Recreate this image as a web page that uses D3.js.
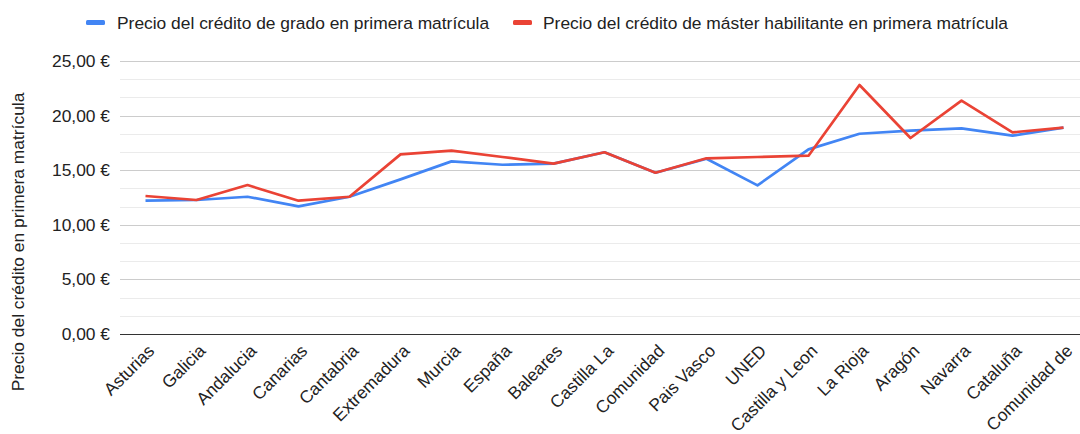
<!DOCTYPE html>
<html>
<head>
<meta charset="utf-8">
<script src="https://cdn.jsdelivr.net/npm/d3@7"></script>
<style>
  body { margin: 0; background: #fff; }
  svg { font-family: "Liberation Sans", Arial, sans-serif; }
</style>
</head>
<body>
<div id="chart"></div>
<script>
const regions = ["Asturias", "Galicia", "Andalucia", "Canarias", "Cantabria", "Extremadura", "Murcia",
  "España", "Baleares", "Castilla La", "Comunidad", "Pais Vasco", "UNED", "Castilla y Leon",
  "La Rioja", "Aragón", "Navarra", "Cataluña", "Comunidad de"];
const grado = [12.21, 12.27, 12.57, 11.69, 12.57, 14.16, 15.81, 15.5, 15.6, 16.64, 14.77, 16.05,
  13.61, 16.91, 18.34, 18.62, 18.83, 18.16, 18.9];
const master = [12.64, 12.27, 13.64, 12.21, 12.57, 16.45, 16.79, 16.21, 15.6, 16.64, 14.77, 16.09,
  16.21, 16.33, 22.8, 17.95, 21.37, 18.47, 18.9];
const yTicks = [0, 5, 10, 15, 20, 25];
const seriesNames = ["Precio del crédito de grado en primera matrícula",
  "Precio del crédito de máster habilitante en primera matrícula"];
const colors = ["#4285f4", "#ea4335"];

const width = 1080, height = 434;
const margin = { left: 120, right: 0, top: 61, bottom: 100 };
const fontSize = "17.4px";

const svg = d3.select("#chart").append("svg")
  .attr("width", width)
  .attr("height", height);

const x = d3.scaleBand()
  .domain(regions)
  .range([margin.left, margin.left + 51 * regions.length]);

const y = d3.scaleLinear()
  .domain([0, 25])
  .range([height - margin.bottom, margin.top]);

// minor gridlines
const minor = d3.range(0, 25, 5 / 3).filter((d, i) => i % 3 !== 0);
svg.append("g").selectAll("line")
  .data(minor)
  .enter().append("line")
  .attr("x1", margin.left).attr("x2", width)
  .attr("y1", d => Math.round(y(d)) + 0.5).attr("y2", d => Math.round(y(d)) + 0.5)
  .attr("stroke", "#ebebeb");

// major gridlines
svg.append("g").selectAll("line")
  .data(yTicks.slice(1))
  .enter().append("line")
  .attr("x1", margin.left).attr("x2", width)
  .attr("y1", d => Math.round(y(d)) + 0.5).attr("y2", d => Math.round(y(d)) + 0.5)
  .attr("stroke", "#cccccc");

// y labels
const fmt = d => d3.format(".2f")(d).replace(".", ",") + " €";
svg.append("g").selectAll("text")
  .data(yTicks)
  .enter().append("text")
  .attr("x", 110)
  .attr("y", d => y(d) + 6)
  .attr("text-anchor", "end")
  .attr("font-size", fontSize)
  .attr("fill", "#222")
  .text(fmt);

// y title
svg.append("text")
  .attr("transform", "translate(24,242) rotate(-90)")
  .attr("text-anchor", "middle")
  .attr("font-size", fontSize)
  .attr("fill", "#222")
  .text("Precio del crédito en primera matrícula");

// lines
const line = d3.line()
  .x((d, i) => x(regions[i]) + x.bandwidth() / 2)
  .y(d => y(d));

[grado, master].forEach((vals, k) => {
  svg.append("path")
    .datum(vals)
    .attr("fill", "none")
    .attr("stroke", colors[k])
    .attr("stroke-width", 2.7)
    .attr("stroke-linejoin", "round")
    .attr("d", line);
});

// baseline
svg.append("line")
  .attr("x1", margin.left).attr("x2", width)
  .attr("y1", Math.round(y(0)) + 0.5).attr("y2", Math.round(y(0)) + 0.5)
  .attr("stroke", "#333");

// x labels
svg.append("g").selectAll("text")
  .data(regions)
  .enter().append("text")
  .attr("transform", d => `translate(${x(d) + x.bandwidth() / 2 + 10},${y(0) + 18}) rotate(-45)`)
  .attr("text-anchor", "end")
  .attr("font-size", fontSize)
  .attr("fill", "#222")
  .text(d => d);

// legend
const legendPos = [{ sx: 86, tx: 117 }, { sx: 513, tx: 543 }];
seriesNames.forEach((name, k) => {
  svg.append("rect")
    .attr("x", legendPos[k].sx).attr("y", 20)
    .attr("width", 19).attr("height", 5)
    .attr("rx", 1.5)
    .attr("fill", colors[k]);
  svg.append("text")
    .attr("x", legendPos[k].tx).attr("y", 29)
    .attr("font-size", fontSize)
    .attr("fill", "#222")
    .text(name);
});
</script>
</body>
</html>
